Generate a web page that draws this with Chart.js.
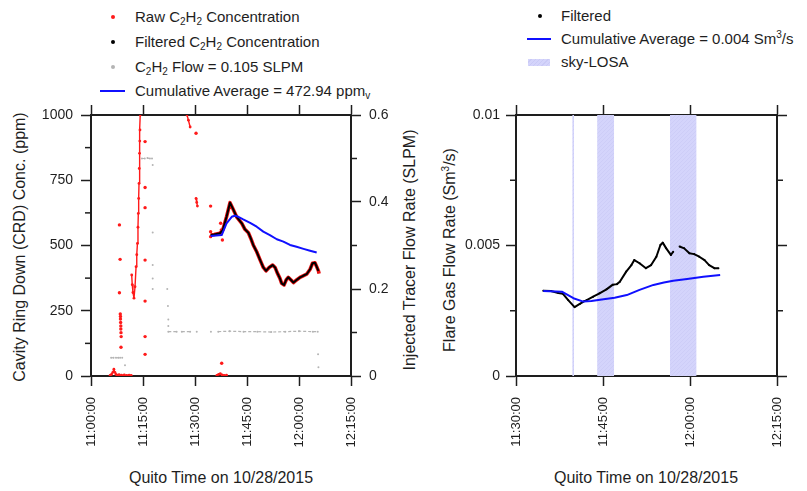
<!DOCTYPE html>
<html>
<head>
<meta charset="utf-8">
<script src="https://cdn.jsdelivr.net/npm/chart.js@4.4.0/dist/chart.umd.min.js"></script>
<style>
  body { margin: 0; background: #fff; width: 807px; height: 491px; position: relative; overflow: hidden;
         font-family: "Liberation Sans", Arial, sans-serif; color: #1e1e1e; }
  canvas { position: absolute; }
  .lg { position: absolute; font-size: 15px; line-height: 18px; white-space: nowrap; }
  .lg sub { font-size: 10px; vertical-align: -3px; line-height: 0; }
  .lg sup, .ttl sup { font-size: 10px; vertical-align: 6px; line-height: 0; }
  .dot { position: absolute; width: 4px; height: 4px; border-radius: 50%; }
  .ln { position: absolute; height: 2px; background: #1010ff; }
  .patch { position: absolute; width: 22px; height: 7px;
           background: repeating-linear-gradient(135deg, #d4d4fb 0 2px, #cacaf6 2px 3px); }
  .ttl { position: absolute; font-size: 16px; white-space: nowrap; transform: translate(-50%, -50%); }
  .ttl.v { transform: translate(-50%, -50%) rotate(-90deg); }
</style>
</head>
<body>

<!-- left legend -->
<div class="dot" style="left:111px;top:15px;background:#ff1a1a"></div>
<div class="lg" style="left:135px;top:8px">Raw C<sub>2</sub>H<sub>2</sub> Concentration</div>
<div class="dot" style="left:111px;top:40px;background:#000"></div>
<div class="lg" style="left:135px;top:33px">Filtered C<sub>2</sub>H<sub>2</sub> Concentration</div>
<div class="dot" style="left:111px;top:65px;background:#b4b4b4"></div>
<div class="lg" style="left:135px;top:58px">C<sub>2</sub>H<sub>2</sub> Flow = 0.105 SLPM</div>
<div class="ln" style="left:100px;top:90px;width:25px"></div>
<div class="lg" style="left:135px;top:82px">Cumulative Average = 472.94 ppm<sub>v</sub></div>

<!-- right legend -->
<div class="dot" style="left:538px;top:14px;background:#000"></div>
<div class="lg" style="left:561px;top:7px">Filtered</div>
<div class="ln" style="left:527px;top:38px;width:24px"></div>
<div class="lg" style="left:561px;top:30px">Cumulative Average = 0.004 Sm<sup>3</sup>/s</div>
<div class="patch" style="left:528px;top:59px"></div>
<div class="lg" style="left:561px;top:53px">sky-LOSA</div>

<!-- axis titles -->
<div class="ttl v" style="left:20px;top:247px">Cavity Ring Down (CRD) Conc. (ppm)</div>
<div class="ttl v" style="left:410px;top:250px">Injected Tracer Flow Rate (SLPM)</div>
<div class="ttl v" style="left:450px;top:250px">Flare Gas Flow Rate (Sm<sup>3</sup>/s)</div>
<div class="ttl" style="left:221px;top:478px">Quito Time on 10/28/2015</div>
<div class="ttl" style="left:646px;top:478px">Quito Time on 10/28/2015</div>

<canvas id="crd" width="440" height="396" style="left:0;top:95px"></canvas>
<canvas id="flare" width="367" height="396" style="left:440px;top:95px"></canvas>

<script>
// all times are minutes after 11:00:00
const leftTimeTicks = [0, 15, 30, 45, 60, 75];
const rightTimeTicks = [30, 45, 60, 75];
const concTicks = [0, 250, 500, 750, 1000];
const concMinor = [125, 375, 625, 875];
const slpmTicks = [0, 0.2, 0.4, 0.6];
const slpmMinor = [0.1, 0.3, 0.5];
const flareTicks = [0, 0.005, 0.01];
const flareMinor = [0.0025, 0.0075];

// isolated raw CRD readings (ppm)
const rawDotMin = [8.2, 8.4, 8.2, 8.45, 8.5, 8.5, 8.55, 8.6, 8.6, 8.65, 8.7, 8.65,
  15.6, 15.6, 15.6, 15.6, 15.6, 15.6, 15.6, 30.3, 34.5, 34.5, 34.5, 37.4, 37.6, 37.9, 37.7];
const rawDotPpm = [579, 447, 319, 238, 228, 218, 205, 192, 180, 166, 151, 110,
  898, 722, 645, 444, 287, 151, 83, 930, 651, 553, 534, 585, 560, 521, 49];

// short runs of raw readings, null breaks the run
const rawRunMin = [5.5, 5.9, 6.3, 6.6, 6.9, 7.2, 7.6, 8.1, 8.8, 9.6, 10.3, 11.0, 11.6, 11.6,
  11.74, 11.9, 12.1, 12.4, 12.7, 13.0, 13.2, 13.4, 13.55, 13.65, 13.75, 13.85, 13.92, 14.0, 14.07, 14.13, 14.2, 14.2,
  27.7, 28.1, 28.6, 28.6,
  30.3, 30.5, 30.7, 30.7,
  36.3, 36.8, 37.3, 37.8, 38.4, 39.1];
const rawRunPpm = [2, 6, 14, 26, 14, 6, 3, 5, 3, 4, 2, 3, 2, null,
  387, 350, 320, 298, 342, 419, 465, 508, 570, 623, 680, 738, 795, 853, 900, 943, 1000, null,
  1000, 980, 954, null,
  680, 665, 651, null,
  2, 6, 9, 4, 2, 3];

// raw readings while the plume was tracked (ppm)
const rawPlumeMin = [34.5, 35.5, 36.5, 37.2, 38.0, 39.1, 40.1, 40.9, 42.0, 43.5, 44.4, 45.4, 46.1, 46.8, 47.8, 48.8,
  49.7, 50.5, 51.4, 52.4, 53.1, 53.7, 54.5, 55.0, 55.7, 56.3, 56.9, 57.7, 58.4, 59.3, 60.3, 61.2, 62.2, 63.2,
  63.9, 64.6, 65.1, 65.6, 65.8];
const rawPlumePpm = [540, 542, 545, 547, 559, 610, 664, 642, 610, 585, 562, 549, 527, 502, 476, 444,
  416, 403, 416, 425, 416, 396, 374, 355, 349, 368, 378, 368, 358, 368, 378, 384, 390, 409,
  432, 434, 419, 403, 392];

// filtered CRD concentration (ppm)
const filtMin = [34.5, 35.5, 36.5, 37.2, 38.0, 39.1, 40.1, 40.9, 42.0, 43.5, 44.4, 45.4, 46.1, 46.8, 47.8, 48.8,
  49.7, 50.5, 51.4, 52.4, 53.1, 53.7, 54.5, 55.0, 55.7, 56.3, 56.9, 57.7, 58.4, 59.3, 60.3, 61.2, 62.2, 63.2,
  63.9, 64.6, 65.1, 65.6];
const filtPpm = [540, 542, 545, 547, 559, 610, 664, 642, 610, 585, 562, 549, 527, 502, 476, 444,
  416, 403, 416, 425, 416, 396, 374, 355, 349, 368, 378, 368, 358, 368, 378, 384, 390, 409,
  432, 434, 419, 403];

// cumulative average of the filtered concentration (ppm)
const avgMin = [34.5, 37.7, 39.1, 40.6, 41.5, 42.5, 43.9, 45.9, 47.8, 49.7, 51.6, 53.6, 55.5, 57.4, 59.3, 61.3, 63.2, 65.1];
const avgPpm = [536, 540, 585, 610, 614, 610, 600, 587, 572, 553, 540, 524, 515, 502, 495, 487, 480, 473];

// injected C2H2 tracer flow (SLPM)
const flowMin = [5.8, 6.5, 7.2, 7.9, 8.4, 8.4, 9.0, 9.0, 9.8, 9.8,
  14.7, 15.5, 16.3, 17.0, 17.6, 17.6, 17.8, 17.8, 17.8, 17.8, 17.8, 17.8, 17.8, 17.8, 17.8, 17.8,
  22.0, 22.0, 22.2, 22.2, 22.3, 22.3, 22.3, 22.3,
  22.3, 24.7, 24.7, 26.2, 28.6, 28.6, 30.5, 30.5, 34.6, 34.6,
  36.7, 40.0, 44.0, 48.0, 52.0, 56.0, 60.0, 64.0, 65.4, 65.4, 65.5, 65.5, 65.6];
const flowSlpm = [0.042, 0.042, 0.042, 0.042, 0.042, null, 0.042, null, 0.025, null,
  0.5, 0.5, 0.501, 0.5, 0.5, null, 0.485, null, 0.33, null, 0.255, null, 0.224, null, 0.2, null,
  0.2, null, 0.161, null, 0.13, null, 0.115, null,
  0.102, 0.102, null, 0.102, 0.102, null, 0.102, null, 0.102, null,
  0.102, 0.103, 0.102, 0.102, 0.101, 0.102, 0.103, 0.102, 0.102, null, 0.05, null, 0.02];

// flare gas flow rate (Sm3/s)
const flareMin = [34.7, 36.0, 37.3, 38.1, 39.0, 40.1, 41.0, 41.8, 42.2, 43.3, 44.4, 45.6, 46.7, 47.4, 47.9,
  49.0, 49.9, 50.4, 51.3, 52.4, 53.3, 54.2, 54.9, 55.3, 55.9, 56.7, 57.1, 57.6, 58.2, 59.0,
  59.9, 60.7, 61.6, 62.5, 63.3, 64.2, 64.9];
const flareVal = [0.00327, 0.00326, 0.00318, 0.00315, 0.00291, 0.00264, 0.00276, 0.00287, 0.00291, 0.00304,
  0.00317, 0.00332, 0.0035, 0.00352, 0.00361, 0.004, 0.00425, 0.00444, 0.00432, 0.00413,
  0.00425, 0.00457, 0.00502, 0.00511, 0.00489, 0.00464, 0.00476, null, 0.00496, 0.00489,
  0.0047, 0.00467, 0.00457, 0.00444, 0.00425, 0.00413, 0.00413];
const flareAvgMin = [34.7, 37.9, 39.9, 41.6, 43.0, 45.1, 47.0, 49.1, 51.3, 53.7, 55.5, 57.1, 59.5, 62.3, 65.2];
const flareAvgVal = [0.00326, 0.00323, 0.00298, 0.00285, 0.00287, 0.00294, 0.003, 0.0031, 0.0033,
  0.00349, 0.00358, 0.00365, 0.00372, 0.0038, 0.00387];

// sky-LOSA measurement windows
const losaStart = [39.72, 44.0, 56.55];
const losaEnd = [40.0, 46.9, 61.1];

const axisColor = '#1e1e1e';
Chart.defaults.font.family = '"Liberation Sans", Arial, sans-serif';
Chart.defaults.font.size = 14;
Chart.defaults.color = axisColor;

function pts(xs, ys) {
  return xs.map((x, i) => ({ x: x, y: ys[i] }));
}

function clock(m) {
  const h = 11 + Math.floor(m / 60);
  return h + ':' + String(m % 60).padStart(2, '0') + ':00';
}

function num(v) {
  return String(+v.toFixed(4));
}

// one framed axis; size is the fixed width (vertical) or height (horizontal) of its box
function axis(position, min, max, size, tickValues, fmt, padding) {
  const horiz = position === 'top' || position === 'bottom';
  return {
    type: 'linear',
    position: position,
    min: min,
    max: max,
    afterFit: s => { if (horiz) s.height = size; else s.width = size; },
    afterBuildTicks: s => { s.ticks = tickValues.map(v => ({ value: v })); },
    grid: { drawOnChartArea: false, drawTicks: true, tickLength: 10, tickColor: axisColor, tickWidth: 1.5 },
    border: { display: true, color: axisColor, width: 2 },
    ticks: {
      display: !!fmt,
      callback: fmt || (() => ''),
      padding: padding || 8,
      autoSkip: false,
      minRotation: horiz ? 90 : 0,
      maxRotation: horiz ? 90 : 0,
      font: { size: horiz ? 13 : 14 },
      color: axisColor
    }
  };
}

// short unlabelled ticks between the labelled ones
function minorTicks(marks) {
  return {
    id: 'minorTicks',
    afterDraw(chart) {
      const ctx = chart.ctx;
      ctx.save();
      ctx.strokeStyle = axisColor;
      ctx.lineWidth = 1.5;
      Object.keys(marks).forEach(id => {
        const s = chart.scales[id];
        const left = s.position === 'left';
        const edge = left ? s.right : s.left;
        marks[id].forEach(v => {
          const y = s.getPixelForValue(v);
          ctx.beginPath();
          ctx.moveTo(edge, y);
          ctx.lineTo(edge + (left ? -6 : 6), y);
          ctx.stroke();
        });
      });
      ctx.restore();
    }
  };
}

// hatched sky-LOSA windows behind the data
const losaBands = {
  id: 'losaBands',
  beforeDatasetsDraw(chart) {
    const { ctx, chartArea } = chart;
    const xs = chart.scales.x;
    const tile = document.createElement('canvas');
    tile.width = 4; tile.height = 4;
    const g = tile.getContext('2d');
    g.fillStyle = '#d4d4fb';
    g.fillRect(0, 0, 4, 4);
    g.strokeStyle = '#cbcbf6';
    g.lineWidth = 0.8;
    g.beginPath(); g.moveTo(0, 4); g.lineTo(4, 0); g.stroke();
    ctx.save();
    ctx.fillStyle = ctx.createPattern(tile, 'repeat');
    losaStart.forEach((t, i) => {
      const x1 = xs.getPixelForValue(t);
      const x2 = xs.getPixelForValue(losaEnd[i]);
      ctx.fillRect(x1, chartArea.top, Math.max(x2 - x1, 1), chartArea.bottom - chartArea.top);
    });
    ctx.restore();
  }
};

const common = {
  responsive: false,
  animation: false,
  layout: { padding: 0 },
  plugins: { legend: { display: false }, tooltip: { enabled: false } },
  elements: { line: { tension: 0, borderJoinStyle: 'round' } }
};

new Chart(document.getElementById('crd'), {
  type: 'line',
  data: {
    datasets: [
      { data: pts(avgMin, avgPpm), yAxisID: 'y', borderColor: '#1010ff', borderWidth: 2, pointRadius: 0 },
      { data: pts(filtMin, filtPpm), yAxisID: 'y', borderColor: '#000', borderWidth: 2, pointRadius: 0 },
      { data: pts(rawPlumeMin, rawPlumePpm), yAxisID: 'y', borderColor: '#e81010', borderWidth: 3.6, pointRadius: 0 },
      { data: pts(rawRunMin, rawRunPpm), yAxisID: 'y', borderColor: '#ff1a1a', borderWidth: 1.4,
        pointRadius: 1.4, pointBackgroundColor: '#ff1a1a', pointBorderWidth: 0 },
      { data: pts(rawDotMin, rawDotPpm), yAxisID: 'y', showLine: false,
        pointRadius: 1.7, pointBackgroundColor: '#ff1a1a', pointBorderWidth: 0 },
      { data: pts(flowMin, flowSlpm), yAxisID: 'y2', borderColor: '#b4b4b4', borderWidth: 1.2,
        borderDash: [3, 2], pointRadius: 1, pointBackgroundColor: '#b4b4b4', pointBorderWidth: 0 }
    ]
  },
  options: Object.assign({}, common, {
    scales: {
      x: axis('bottom', 0, 75, 115, leftTimeTicks, clock, 11),
      xTop: axis('top', 0, 75, 20, leftTimeTicks),
      y: axis('left', 0, 1000, 91, concTicks, num, 8),
      y2: axis('right', 0, 0.6, 89, slpmTicks, num, 8)
    }
  }),
  plugins: [minorTicks({ y: concMinor, y2: slpmMinor })]
});

new Chart(document.getElementById('flare'), {
  type: 'line',
  data: {
    datasets: [
      { data: pts(flareAvgMin, flareAvgVal), yAxisID: 'y', borderColor: '#1010ff', borderWidth: 2, pointRadius: 0 },
      { data: pts(flareMin, flareVal), yAxisID: 'y', borderColor: '#000', borderWidth: 2,
        pointRadius: 1, pointBackgroundColor: '#000', pointBorderWidth: 0 }
    ]
  },
  options: Object.assign({}, common, {
    scales: {
      x: axis('bottom', 30, 75, 115, rightTimeTicks, clock, 11),
      xTop: axis('top', 30, 75, 20, rightTimeTicks),
      y: axis('left', 0, 0.01, 76, flareTicks, num, 6),
      yR: axis('right', 0, 0.01, 30, flareTicks)
    }
  }),
  plugins: [losaBands, minorTicks({ y: flareMinor, yR: flareMinor })]
});
</script>
</body>
</html>
